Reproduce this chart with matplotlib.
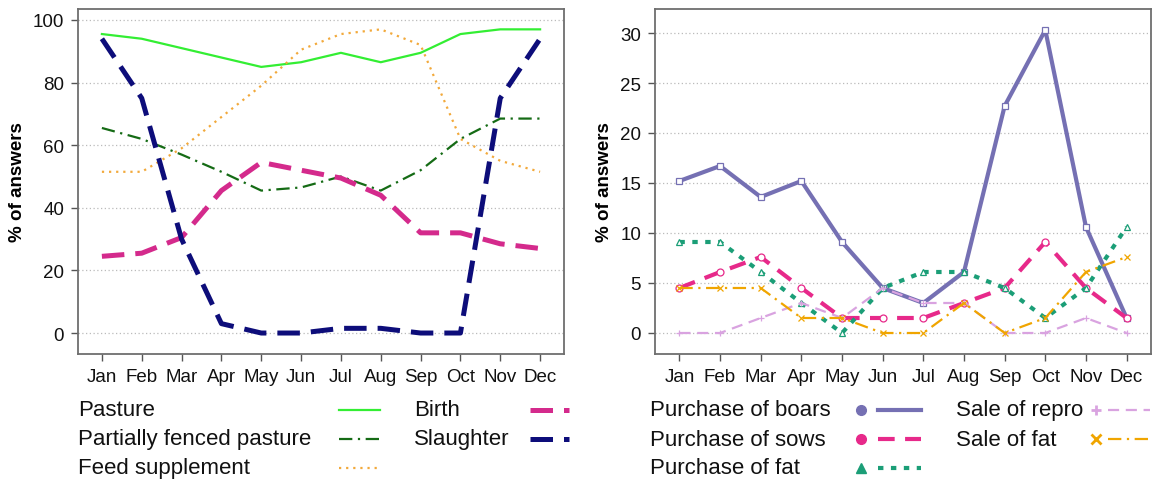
import matplotlib
matplotlib.use("Agg")
import matplotlib.pyplot as plt
from matplotlib.lines import Line2D
import numpy as np

plt.rcParams['font.family'] = ['Liberation Sans', 'DejaVu Sans']

months = ["Jan", "Feb", "Mar", "Apr", "May", "Jun", "Jul", "Aug", "Sep", "Oct", "Nov", "Dec"]

# Left panel (% of answers)
pasture = [95.5, 94, 91, 88, 85, 86.5, 89.5, 86.5, 89.5, 95.5, 97, 97]
partially_fenced = [65.5, 62, 57, 51.5, 45.5, 46.5, 50, 45.5, 52, 62, 68.5, 68.5]
feed_supplement = [51.5, 51.5, 59, 69, 79, 90.5, 95.5, 97, 92, 62, 55, 51.5]
birth = [24.5, 25.5, 30.5, 45.5, 54.5, 52, 49.5, 44, 32, 32, 28.5, 27]
slaughter = [94, 75, 30, 3, 0, 0, 1.5, 1.5, 0, 0, 75, 94]

# Right panel (% of answers)
purchase_boars = [15.2, 16.7, 13.6, 15.2, 9.1, 4.5, 3.0, 6.1, 22.7, 30.3, 10.6, 1.5]
purchase_sows = [4.5, 6.1, 7.6, 4.5, 1.5, 1.5, 1.5, 3.0, 4.5, 9.1, 4.5, 1.5]
purchase_fat = [9.1, 9.1, 6.1, 3.0, 0.0, 4.5, 6.1, 6.1, 4.5, 1.5, 4.5, 10.6]
sale_repro = [0.0, 0.0, 1.5, 3.0, 1.5, 4.5, 3.0, 3.0, 0.0, 0.0, 1.5, 0.0]
sale_fat = [4.5, 4.5, 4.5, 1.5, 1.5, 0.0, 0.0, 3.0, 0.0, 1.5, 6.1, 7.6]

left_ticks = [0, 20, 40, 60, 80, 100]
right_ticks = [0, 5, 10, 15, 20, 25, 30]

W, H = 1161, 481
fig = plt.figure(figsize=(W / 100, H / 100), dpi=100)

def fx(px):
    return px / W

def fy(py):
    return 1 - py / H

ax1 = fig.add_axes([fx(78), fy(355), fx(564) - fx(78), fy(10) - fy(355)])
ax2 = fig.add_axes([fx(655), fy(355), fx(1151) - fx(655), fy(10) - fy(355)])

x = np.arange(len(months))

# styles
st_left = [
    ("Pasture", pasture, dict(color="#33ee33", lw=1.6, ls="-")),
    ("Partially fenced pasture", partially_fenced, dict(color="#156b15", lw=1.6, ls=(0, (6, 2.5, 1, 2.5)))),
    ("Feed supplement", feed_supplement, dict(color="#f2a93b", lw=1.6, ls=(0, (1, 2.2)))),
    ("Birth", birth, dict(color="#d42a8c", lw=3.6, ls=(0, (4.5, 2.2)))),
    ("Slaughter", slaughter, dict(color="#0d0d7a", lw=3.6, ls=(0, (4.5, 2.2)))),
]

st_right = [
    ("Purchase of boars", purchase_boars, dict(color="#7570b3", lw=3.0, ls="-"), "s", "o"),
    ("Purchase of sows", purchase_sows, dict(color="#e7298a", lw=3.0, ls=(0, (4, 2.5))), "o", "o"),
    ("Purchase of fat", purchase_fat, dict(color="#1b9e77", lw=3.0, ls=(0, (1.3, 1.8))), "^", "^"),
    ("Sale of repro", sale_repro, dict(color="#d9a3e0", lw=1.6, ls=(0, (5, 3))), "+", "+"),
    ("Sale of fat", sale_fat, dict(color="#f0a500", lw=1.6, ls=(0, (6, 2.5, 1, 2.5))), "x", "x"),
]

for name, vals, kw in st_left:
    ax1.plot(x, vals, zorder=3, **kw)

for name, vals, kw, mk, _ in st_right:
    ax2.plot(x, vals, zorder=3, marker=mk, markersize=5, markerfacecolor="white" if mk not in "+x" else kw["color"],
             markeredgecolor=kw["color"], markeredgewidth=0.9, **kw)

def style_axis(ax, ticks, ylim):
    ax.set_xlim(-0.6, 11.6)
    ax.set_ylim(*ylim)
    ax.set_xticks(x)
    ax.set_xticklabels(months)
    ax.set_yticks(ticks)
    ax.set_yticklabels([str(t) for t in ticks])
    for t in ticks:
        ax.axhline(t, color="#bbbbbb", lw=0.9, ls=(0, (1, 2)), zorder=1)
    for sp in ax.spines.values():
        sp.set_color("#6e6e6e")
        sp.set_linewidth(1.3)
    ax.tick_params(axis="both", direction="out", length=5, width=1.0, color="#555555",
                   labelsize=13.5, labelcolor="#111111", pad=5)
    ax.set_ylabel("% of answers", fontsize=13.5, fontweight="bold", labelpad=5)

style_axis(ax1, left_ticks, (-6.7, 103.5))
style_axis(ax2, right_ticks, (-2.1, 32.4))

# Manual legends (text on left, key on right)
rows = [411, 440, 469]
fs_leg = 16

def key_line(x0, x1, y, kw):
    fig.add_artist(Line2D([fx(x0), fx(x1)], [fy(y), fy(y)], transform=fig.transFigure, **kw))

def key_marker(xm, y, mk, color):
    fig.add_artist(Line2D([fx(xm)], [fy(y)], transform=fig.transFigure, marker=mk, markersize=7,
                          color=color, markeredgewidth=2 if mk in "+x" else 1, linestyle="none"))

left_slots = [(78, 339, 380, rows[0]), (78, 339, 380, rows[1]), (78, 339, 380, rows[2]),
              (414, 530, 569, rows[0]), (414, 530, 569, rows[1])]
for (name, vals, kw), (tx, x0, x1, y) in zip(st_left, left_slots):
    fig.text(fx(tx), fy(y), name, fontsize=fs_leg, va="center", ha="left", color="#111111")
    key_line(x0, x1, y, kw)

right_slots = [(650, 861, 878, 921, rows[0]), (650, 861, 878, 921, rows[1]), (650, 861, 878, 921, rows[2]),
               (956, 1096, 1108, 1150, rows[0]), (956, 1096, 1108, 1150, rows[1])]
for (name, vals, kw, mk, lmk), (tx, xm, x0, x1, y) in zip(st_right, right_slots):
    fig.text(fx(tx), fy(y), name, fontsize=fs_leg, va="center", ha="left", color="#111111")
    key_marker(xm, y, lmk, kw["color"])
    key_line(x0, x1, y, kw)

fig.savefig("out.png", dpi=100)
